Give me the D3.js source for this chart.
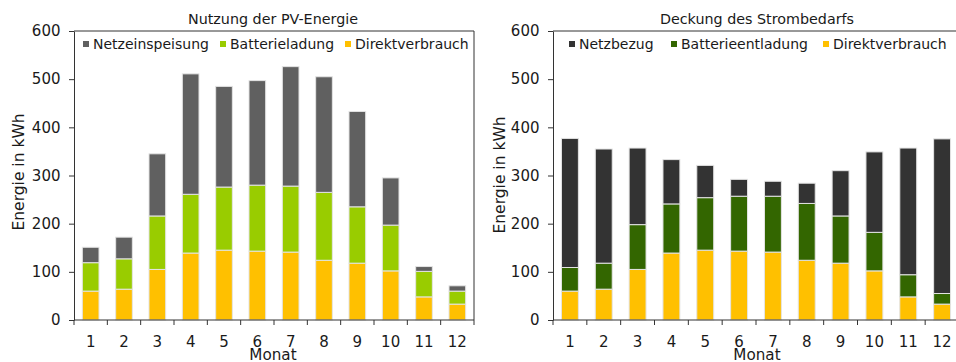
<!DOCTYPE html>
<html>
<head>
<meta charset="utf-8">
<script src="https://cdn.jsdelivr.net/npm/d3@7"></script>
<style>
  html, body { margin: 0; padding: 0; background: #fff; }
  svg { display: block; font-family: "DejaVu Sans", Verdana, sans-serif; }
</style>
</head>
<body>
<svg id="chart" width="956" height="362"></svg>
<script>
// Monthly energy balance of a PV system with battery storage (kWh)
const months = ["1", "2", "3", "4", "5", "6", "7", "8", "9", "10", "11", "12"];
const yTicks = [0, 100, 200, 300, 400, 500, 600];

// Use of PV energy
const direktverbrauch = [60, 64, 105, 139, 145, 143, 141, 124, 118, 102, 48, 33];
const batterieladung  = [59, 63, 111, 122, 131, 137, 137, 141, 117, 95, 53, 27];
const netzeinspeisung = [32, 45, 129, 250, 209, 217, 248, 240, 198, 98, 10, 11];

// Coverage of demand
const batterieentladung = [49, 54, 93, 102, 109, 114, 116, 118, 98, 80, 46, 22];
const netzbezug         = [268, 237, 159, 92, 67, 35, 31, 42, 94, 167, 263, 321];

const svg = d3.select("#chart");
const ink = "#1a1a1a";

function drawChart(cfg) {
  const g = svg.append("g");
  const x = d3.scaleBand().domain(months).range([cfg.x0, cfg.x1]).paddingInner(0.5).paddingOuter(0.25);
  const y = d3.scaleLinear().domain([0, 600]).range([320, 31]);

  // plot frame (top and right edges)
  g.append("path")
    .attr("d", `M${cfg.x0},${y(600)}H${cfg.x1}V${y(0)}`)
    .attr("fill", "none").attr("stroke", "#333").attr("stroke-width", 1);

  // stacked bars
  const rows = months.map((m, i) => {
    const r = { month: m };
    cfg.series.forEach(s => { r[s.key] = s.values[i]; });
    return r;
  });
  const stack = d3.stack().keys(cfg.series.map(s => s.key))(rows);
  stack.forEach((layer, li) => {
    g.append("g").selectAll("rect").data(layer).join("rect")
      .attr("x", d => x(d.data.month))
      .attr("width", x.bandwidth())
      .attr("y", d => y(d[1]))
      .attr("height", d => y(d[0]) - y(d[1]))
      .attr("fill", cfg.series[li].color)
      .attr("stroke", "#e4e4e4")
      .attr("stroke-width", 1);
  });

  // y axis
  const ya = g.append("g").attr("transform", `translate(${cfg.x0},0)`)
    .call(d3.axisLeft(y).tickValues(yTicks).tickSize(5).tickPadding(8.5).tickSizeOuter(0));
  ya.select(".domain").attr("stroke", "#333");
  ya.selectAll(".tick line").attr("stroke", "#333");
  ya.selectAll("text").attr("font-size", 15).attr("fill", ink).style("font-family", "DejaVu Sans");

  // x axis with ticks on category boundaries
  const xa = g.append("g").attr("transform", `translate(0,${y(0)})`);
  xa.append("line").attr("x1", cfg.x0).attr("x2", cfg.x1).attr("stroke", "#333");
  const step = (cfg.x1 - cfg.x0) / months.length;
  xa.selectAll("line.tk").data(d3.range(months.length + 1)).join("line")
    .attr("class", "tk")
    .attr("x1", i => cfg.x0 + i * step).attr("x2", i => cfg.x0 + i * step)
    .attr("y1", 0).attr("y2", 5).attr("stroke", "#333");
  xa.selectAll("text").data(months).join("text")
    .attr("x", m => x(m) + x.bandwidth() / 2)
    .attr("y", 26.5)
    .attr("text-anchor", "middle")
    .attr("font-size", 15).attr("fill", ink)
    .text(m => m);

  // titles
  g.append("text").attr("x", cfg.titleX).attr("y", 23.5).attr("text-anchor", "middle")
    .attr("font-size", 14.3).attr("fill", ink).text(cfg.title);
  g.append("text").attr("x", cfg.titleX).attr("y", 360).attr("text-anchor", "middle")
    .attr("font-size", 15.2).attr("fill", ink).text("Monat");
  g.append("text")
    .attr("transform", `translate(${cfg.yLabelX},${cfg.yLabelY}) rotate(-90)`)
    .attr("text-anchor", "middle")
    .attr("font-size", 15.5).attr("fill", ink).text("Energie in kWh");

  // legend (top series first)
  const legendItems = cfg.series.slice().reverse();
  legendItems.forEach((s, i) => {
    const lx = cfg.legendX[i];
    g.append("rect").attr("x", lx).attr("y", 41).attr("width", 6).attr("height", 6).attr("fill", s.color);
    g.append("text").attr("x", lx + 10).attr("y", 49)
      .attr("font-size", 14).attr("fill", ink).text(s.key);
  });
}

drawChart({
  title: "Nutzung der PV-Energie",
  x0: 74, x1: 474, titleX: 273, yLabelX: 23.5, yLabelY: 172,
  legendX: [83, 220, 345],
  series: [
    { key: "Direktverbrauch", values: direktverbrauch, color: "#ffc000" },
    { key: "Batterieladung", values: batterieladung, color: "#99cc00" },
    { key: "Netzeinspeisung", values: netzeinspeisung, color: "#606060" }
  ]
});

drawChart({
  title: "Deckung des Strombedarfs",
  x0: 553, x1: 959, titleX: 757, yLabelX: 505, yLabelY: 175,
  legendX: [569, 671, 823],
  series: [
    { key: "Direktverbrauch", values: direktverbrauch, color: "#ffc000" },
    { key: "Batterieentladung", values: batterieentladung, color: "#336600" },
    { key: "Netzbezug", values: netzbezug, color: "#333333" }
  ]
});
</script>
</body>
</html>
